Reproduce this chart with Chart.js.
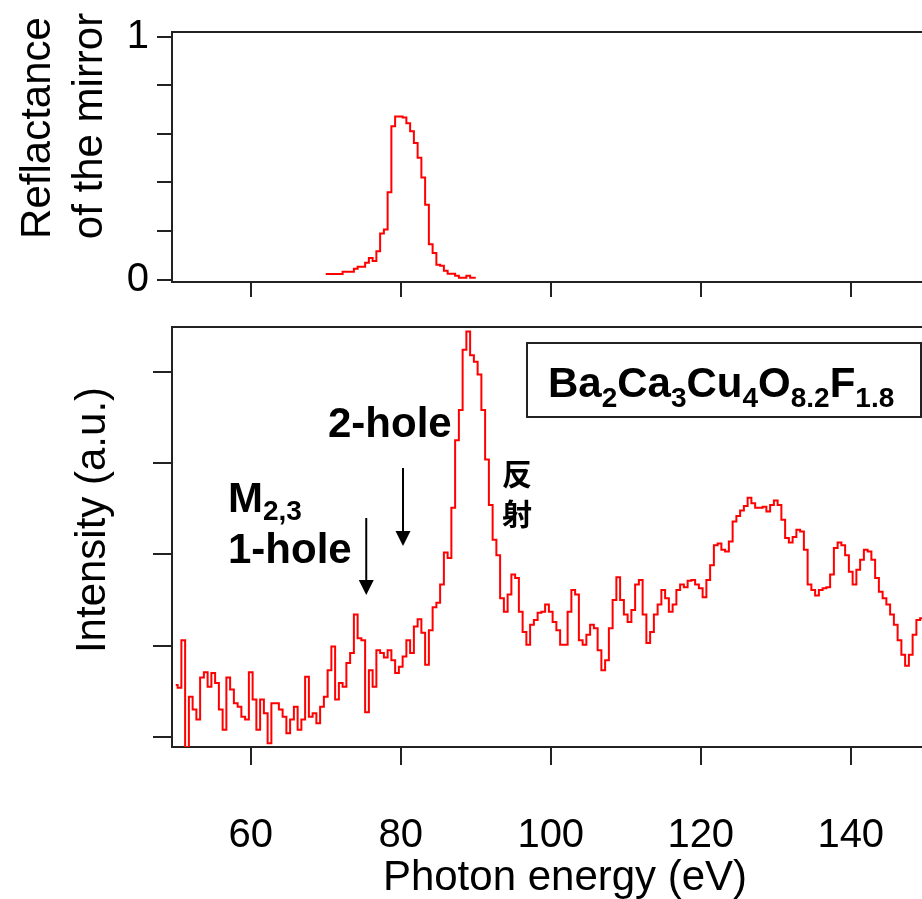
<!DOCTYPE html>
<html>
<head>
<meta charset="utf-8">
<script src="https://cdn.jsdelivr.net/npm/chart.js@4.4.1/dist/chart.umd.min.js"></script>
<style>
  html, body { margin: 0; padding: 0; background: #fff; }
  #wrap { position: relative; width: 922px; height: 899px; overflow: hidden; background: #fff; }
  canvas { position: absolute; left: 0; top: 0; }
</style>
</head>
<body>
<div id="wrap">
  <canvas id="reflChart" width="922" height="899"></canvas>
  <canvas id="specChart" width="922" height="899"></canvas>
</div>
<script>
const FONT = '"Liberation Sans", Arial, Helvetica, sans-serif';
const CJK = '"Noto Sans CJK JP", "Noto Sans CJK SC", sans-serif';
const AXIS = '#222';
const RED = '#ff0000';

// spectrum: photon energy grid (eV) and intensity (a.u.)
const specStart = 50;
const specStep = 0.5;
const intensity = [
  0.57, 0.54, 1.06, -0.11, 0.44, 0.30, 0.19, 0.65, 0.71, 0.55,
  0.70, 0.59, 0.30, 0.08, 0.65, 0.52, 0.37, 0.33, 0.22, 0.19,
  0.71, 0.41, 0.08, 0.41, 0.26, -0.07, 0.37, 0.37, 0.30, 0.22,
  0.04, 0.19, 0.33, 0.08, 0.19, 0.66, 0.22, 0.26, 0.15, 0.33,
  0.44, 0.73, 0.99, 0.41, 0.59, 0.55, 0.81, 0.92, 1.34, 1.08,
  1.06, 0.27, 0.73, 0.55, 0.95, 0.92, 0.87, 0.95, 0.84, 0.70,
  0.77, 0.88, 1.06, 0.92, 1.21, 1.29, 1.14, 0.79, 1.17, 1.42,
  1.47, 1.67, 2.02, 1.96, 2.51, 3.25, 3.58, 4.24, 4.44, 4.18,
  4.11, 3.97, 3.58, 3.04, 2.54, 2.16, 1.99, 1.52, 1.37, 1.56,
  1.78, 1.74, 1.37, 1.15, 1.01, 1.23, 1.28, 1.36, 1.37, 1.45,
  1.37, 1.26, 1.17, 1.01, 1.01, 1.37, 1.61, 1.56, 1.06, 1.01,
  1.12, 1.23, 1.19, 0.95, 0.73, 0.84, 1.19, 1.50, 1.75, 1.50,
  1.34, 1.26, 1.39, 1.67, 1.72, 1.34, 1.03, 1.15, 1.34, 1.45,
  1.61, 1.52, 1.37, 1.45, 1.61, 1.67, 1.64, 1.71, 1.72, 1.67,
  1.63, 1.53, 1.72, 1.88, 2.10, 2.12, 2.05, 2.03, 2.14, 2.36,
  2.42, 2.48, 2.53, 2.62, 2.56, 2.51, 2.51, 2.52, 2.47, 2.54,
  2.59, 2.54, 2.38, 2.18, 2.13, 2.19, 2.27, 2.25, 2.05, 1.67,
  1.61, 1.55, 1.61, 1.63, 1.64, 1.78, 2.07, 2.13, 2.10, 1.99,
  1.81, 1.67, 1.83, 1.94, 2.05, 2.03, 1.94, 1.74, 1.59, 1.52,
  1.45, 1.34, 1.23, 1.06, 0.90, 0.78, 0.90, 1.12, 1.28, 1.30
];

// mirror reflectance, 70-90 eV
const reflStart = 70;
const reflStep = 0.5;
const reflectance = [
  0.023, 0.023, 0.023, 0.023, 0.023, 0.032, 0.032, 0.032, 0.045, 0.053,
  0.053, 0.069, 0.089, 0.077, 0.117, 0.190, 0.206, 0.360, 0.632, 0.672,
  0.672, 0.668, 0.644, 0.611, 0.563, 0.502, 0.421, 0.308, 0.146, 0.109,
  0.061, 0.057, 0.036, 0.024, 0.024, 0.016, 0.008, 0.008, 0.016, 0.008, 0.008
];

const xTicks = [60, 80, 100, 120, 140];
const reflTicks = [0, 0.2, 0.4, 0.6, 0.8, 1];
const reflLabels = ['0', '', '', '', '', '1'];
const intTicks = [0, 1, 2, 3, 4];

// arrows: energy (eV) they point at
const oneHoleE = 75.4;
const twoHoleE = 80.3;

const X_MIN = 49.5, X_MAX = 149.5;

function toPoints(start, step, arr) {
  return arr.map((v, i) => ({ x: start + i * step, y: v }));
}

function vText(ctx, text, xBase, yCenter, font) {
  ctx.save();
  ctx.translate(xBase, yCenter);
  ctx.rotate(-Math.PI / 2);
  ctx.font = font;
  ctx.fillStyle = '#000';
  ctx.textAlign = 'center';
  ctx.textBaseline = 'alphabetic';
  ctx.fillText(text, 0, 0);
  ctx.restore();
}

// text with subscripts: parts = [[text, isSub], ...]
function subText(ctx, parts, x, y, big, small, drop) {
  ctx.textAlign = 'left';
  ctx.textBaseline = 'alphabetic';
  ctx.fillStyle = '#000';
  parts.forEach(([t, sub]) => {
    ctx.font = 'bold ' + (sub ? small : big) + 'px ' + FONT;
    ctx.fillText(t, x, sub ? y + drop : y);
    x += ctx.measureText(t).width;
  });
}

function arrow(ctx, x, y0, y1) {
  ctx.strokeStyle = '#000';
  ctx.fillStyle = '#000';
  ctx.lineWidth = 2;
  ctx.beginPath();
  ctx.moveTo(x, y0);
  ctx.lineTo(x, y1 - 10);
  ctx.stroke();
  ctx.beginPath();
  ctx.moveTo(x, y1);
  ctx.lineTo(x - 7.5, y1 - 15);
  ctx.lineTo(x + 7.5, y1 - 15);
  ctx.closePath();
  ctx.fill();
}

function topLine(chart) {
  const a = chart.chartArea, ctx = chart.ctx;
  ctx.save();
  ctx.strokeStyle = AXIS;
  ctx.lineWidth = 2;
  ctx.beginPath();
  ctx.moveTo(a.left - 1, a.top);
  ctx.lineTo(a.right, a.top);
  ctx.stroke();
  ctx.restore();
}

function axisGrid(len) {
  return { drawOnChartArea: false, drawTicks: true, tickLength: len, color: AXIS, lineWidth: 2 };
}

const reflDecor = {
  id: 'reflDecor',
  afterDraw(chart) {
    const ctx = chart.ctx;
    topLine(chart);
    vText(ctx, 'Reflactance', 50, 128, '42px ' + FONT);
    vText(ctx, 'of the mirror', 102, 126, '42px ' + FONT);
  }
};

const specDecor = {
  id: 'specDecor',
  afterDraw(chart) {
    const ctx = chart.ctx;
    const xs = chart.scales.x;
    topLine(chart);
    ctx.save();

    // formula box
    ctx.strokeStyle = '#222';
    ctx.lineWidth = 2;
    ctx.strokeRect(527, 343, 394, 74);
    subText(ctx, [['Ba', false], ['2', true], ['Ca', false], ['3', true], ['Cu', false], ['4', true],
                  ['O', false], ['8.2', true], ['F', false], ['1.8', true]], 548, 397, 42, 28, 10);

    // hole labels
    subText(ctx, [['2-hole', false]], 328, 437, 42, 28, 0);
    subText(ctx, [['M', false], ['2,3', true]], 228, 512, 42, 28, 8);
    subText(ctx, [['1-hole', false]], 228, 563, 42, 28, 0);
    arrow(ctx, xs.getPixelForValue(oneHoleE), 518, 595);
    arrow(ctx, xs.getPixelForValue(twoHoleE), 468, 546);

    // reflection peak label
    ctx.font = 'bold 30px ' + CJK;
    ctx.fillStyle = '#000';
    ctx.textAlign = 'center';
    ctx.textBaseline = 'middle';
    ctx.fillText('反', 517, 474);
    ctx.fillText('射', 517, 514);

    // axis titles
    vText(ctx, 'Intensity (a.u.)', 105, 520, '42px ' + FONT);
    ctx.font = '42px ' + FONT;
    ctx.textAlign = 'center';
    ctx.textBaseline = 'alphabetic';
    ctx.fillText('Photon energy (eV)', 565, 890);
    ctx.restore();
  }
};

const lineStyle = {
  borderColor: RED,
  borderWidth: 2,
  pointRadius: 0,
  pointHoverRadius: 0,
  pointHitRadius: 0,
  stepped: 'middle',
  fill: false
};

new Chart(document.getElementById('reflChart'), {
  type: 'line',
  data: {
    datasets: [Object.assign({ data: toPoints(reflStart, reflStep, reflectance) }, lineStyle)]
  },
  options: {
    responsive: false,
    animation: false,
    devicePixelRatio: 1,
    events: [],
    layout: { autoPadding: false, padding: { top: 27, bottom: 899 - 282 - 18, left: 0, right: 0 } },
    plugins: { legend: { display: false }, tooltip: { enabled: false } },
    scales: {
      x: {
        type: 'linear', min: X_MIN, max: X_MAX,
        afterBuildTicks: ax => { ax.ticks = xTicks.map(v => ({ value: v })); },
        afterFit: ax => { ax.height = 18; ax.paddingLeft = 0; ax.paddingRight = 0; },
        ticks: { display: false, autoSkip: false },
        grid: axisGrid(15),
        border: { display: true, color: AXIS, width: 2 }
      },
      y: {
        min: -0.01, max: 1.02,
        afterBuildTicks: ax => { ax.ticks = reflTicks.map(v => ({ value: v })); },
        afterFit: ax => { ax.width = 172; },
        ticks: {
          autoSkip: false,
          callback: (v, i) => reflLabels[i],
          color: '#000', padding: 8,
          font: { size: 40, family: FONT }
        },
        grid: axisGrid(15),
        border: { display: true, color: AXIS, width: 2 }
      }
    }
  },
  plugins: [reflDecor]
});

new Chart(document.getElementById('specChart'), {
  type: 'line',
  data: {
    datasets: [Object.assign({ data: toPoints(specStart, specStep, intensity) }, lineStyle)]
  },
  options: {
    responsive: false,
    animation: false,
    devicePixelRatio: 1,
    events: [],
    layout: { autoPadding: false, padding: { top: 327, bottom: 0, left: 0, right: 0 } },
    plugins: { legend: { display: false }, tooltip: { enabled: false } },
    scales: {
      x: {
        type: 'linear', min: X_MIN, max: X_MAX,
        afterBuildTicks: ax => { ax.ticks = xTicks.map(v => ({ value: v })); },
        afterFit: ax => { ax.height = 152; ax.paddingLeft = 0; ax.paddingRight = 0; },
        ticks: {
          color: '#000', padding: 47, maxRotation: 0, autoSkip: false,
          font: { size: 40, family: FONT }
        },
        grid: axisGrid(18),
        border: { display: true, color: AXIS, width: 2 }
      },
      y: {
        min: -0.11, max: 4.49,
        afterBuildTicks: ax => { ax.ticks = intTicks.map(v => ({ value: v })); },
        afterFit: ax => { ax.width = 172; },
        ticks: { display: false, autoSkip: false },
        grid: axisGrid(19),
        border: { display: true, color: AXIS, width: 2 }
      }
    }
  },
  plugins: [specDecor]
});
</script>
</body>
</html>
